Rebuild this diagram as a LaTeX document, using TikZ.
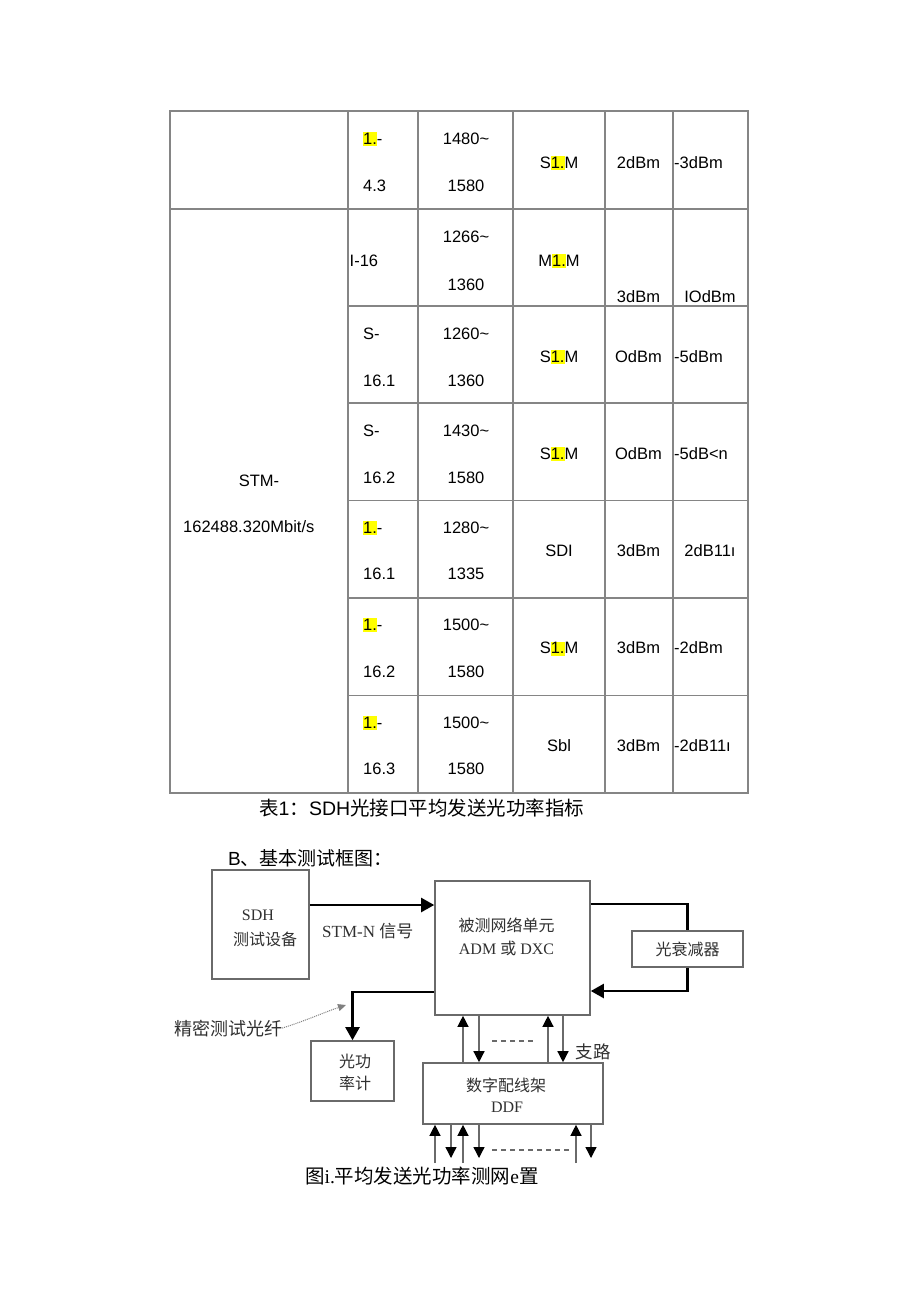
\documentclass[tikz,border=0pt]{standalone}
\usepackage{fontspec}
\setmainfont{Liberation Sans}
\newfontfamily\cjk{Noto Sans CJK SC}
\newfontfamily\tms{Liberation Serif}
\usetikzlibrary{arrows.meta}
\definecolor{gridc}{HTML}{858585}
\definecolor{boxc}{HTML}{6A6A6A}
\definecolor{hly}{HTML}{FFFF00}
\definecolor{dtext}{HTML}{303030}
\newcommand{\hlone}{{\setlength{\fboxsep}{0pt}\colorbox{hly}{\rule[-2pt]{0pt}{14pt}1.}}}
\begin{document}
\begin{tikzpicture}[x=1pt,y=-1pt,
  tt/.style={font=\fontsize{16.5}{18}\selectfont, inner sep=0pt, anchor=base},
  ttl/.style={tt, anchor=base west},
  gridline/.style={draw=gridc, line width=1.2pt},
  box/.style={draw=boxc, line width=1.6pt, inner sep=0pt},
  thk/.style={line width=2.2pt, draw=black},
  thn/.style={line width=1.3pt, draw=boxc},
  bigtip/.style={-{Triangle[length=13pt,width=14pt]}},
  smtip/.style={-{Triangle[length=11pt,width=11pt,color=black]}},
  cjkt/.style={font=\cjk\fontsize{16}{18}\selectfont, inner sep=0pt, anchor=base, text=dtext},
  fibre/.style={densely dotted, line width=1pt, draw=gray, -{Triangle[length=8pt,width=7pt,color=gray]}},
  capt/.style={font=\fontsize{19.5}{22}\selectfont, inner sep=0pt, anchor=base west}
]
\useasboundingbox[fill=white] (0,0) rectangle (920,1301);

% ---------------- table grid ----------------
\draw[gridline] (170,111) rectangle (748,793);
\draw[gridline] (170,209) -- (748,209);
\foreach \yy in {306,403,500.5,598,695.5} {\draw[gridline] (348,\yy) -- (748,\yy);}
\foreach \xx in {348,418,513,605,673} {\draw[gridline] (\xx,111) -- (\xx,793);}

% ---------------- table text ----------------
% row 1
\node[ttl] (r1a) at (363,144) {\hlone-};
\node[ttl] (r1b) at (363,191) {4.3};
\node[tt] (r1c) at (466,144) {1480\textasciitilde};
\node[tt] (r1d) at (466,191) {1580};
\node[tt] (r1e) at (559,168) {S\hlone M};
\node[tt] (r1f) at (638.5,168) {2dBm};
\node[ttl] (r1g) at (674,168) {-3dBm};
% row 2
\node[ttl] (r2a) at (349.5,266) {I-16};
\node[tt] (r2c) at (466,242) {1266\textasciitilde};
\node[tt] (r2d) at (466,290) {1360};
\node[tt] (r2e) at (559,266) {M\hlone M};
\node[tt] (r2f) at (638.5,302.5) {3dBm};
\node[tt] (r2g) at (710,302.5) {IOdBm};
% row 3
\node[ttl] (r3a) at (363,339) {S-};
\node[ttl] (r3b) at (363,386) {16.1};
\node[tt] (r3c) at (466,339) {1260\textasciitilde};
\node[tt] (r3d) at (466,386) {1360};
\node[tt] (r3e) at (559,362) {S\hlone M};
\node[tt] (r3f) at (638.5,362) {OdBm};
\node[ttl] (r3g) at (674,362) {-5dBm};
% row 4
\node[ttl] (r4a) at (363,436) {S-};
\node[ttl] (r4b) at (363,483) {16.2};
\node[tt] (r4c) at (466,436) {1430\textasciitilde};
\node[tt] (r4d) at (466,483) {1580};
\node[tt] (r4e) at (559,459) {S\hlone M};
\node[tt] (r4f) at (638.5,459) {OdBm};
\node[ttl] (r4g) at (674,459) {-5dB<n};
% row 5
\node[ttl] (r5a) at (363,533) {\hlone-};
\node[ttl] (r5b) at (363,579.5) {16.1};
\node[tt] (r5c) at (466,533) {1280\textasciitilde};
\node[tt] (r5d) at (466,579.5) {1335};
\node[tt] (r5e) at (559,556.5) {SDI};
\node[tt] (r5f) at (638.5,556.5) {3dBm};
\node[tt] (r5g) at (710,556.5) {2dB11ı};
% row 6
\node[ttl] (r6a) at (363,630) {\hlone-};
\node[ttl] (r6b) at (363,677.5) {16.2};
\node[tt] (r6c) at (466,630) {1500\textasciitilde};
\node[tt] (r6d) at (466,677.5) {1580};
\node[tt] (r6e) at (559,653.5) {S\hlone M};
\node[tt] (r6f) at (638.5,653.5) {3dBm};
\node[ttl] (r6g) at (674,653.5) {-2dBm};
% row 7
\node[ttl] (r7a) at (363,728) {\hlone-};
\node[ttl] (r7b) at (363,774.5) {16.3};
\node[tt] (r7c) at (466,728) {1500\textasciitilde};
\node[tt] (r7d) at (466,774.5) {1580};
\node[tt] (r7e) at (559,751) {Sbl};
\node[tt] (r7f) at (638.5,751) {3dBm};
\node[ttl] (r7g) at (674,751) {-2dB11ı};
% merged first column
\node[tt] (stm1) at (259,486) {STM-};
\node[ttl] (stm2) at (183,532) {162488.320Mbit/s};

% ---------------- captions ----------------
\node[capt] (cap1) at (259,815.5) {\cjk 表\rmfamily 1\cjk ：\rmfamily SDH\cjk 光接口平均发送光功率指标};
\node[capt, font=\fontsize{19}{22}\selectfont] (secb) at (228,865) {B\cjk 、基本测试框图：};
\node[capt] (cap2) at (305,1183.5) {\cjk 图\tms i.\cjk 平均发送光功率测网\tms e\cjk 置};

% ---------------- diagram boxes ----------------
\node[box, minimum width=97pt, minimum height=109pt] (sdh) at (260.5,924.5) {};
\node[box, minimum width=155pt, minimum height=134pt] (ne) at (512.5,948) {};
\node[box, minimum width=111pt, minimum height=36pt, font=\cjk\fontsize{16}{18}\selectfont, text=dtext] (att) at (687.5,949) {光衰减器};
\node[box, minimum width=83pt, minimum height=60pt] (pm) at (352.5,1071) {};
\node[box, minimum width=180pt, minimum height=61pt] (ddf) at (513,1093.5) {};

% box texts
\node[cjkt] (sdhl1) at (258,920.5) {\tms SDH};
\node[cjkt] (sdhl2) at (265,945) {测试设备};
\node[cjkt] (nel1) at (506.5,931) {被测网络单元};
\node[cjkt] (nel2) at (506.5,954) {\tms ADM \cjk 或\tms{} DXC};
\node[cjkt] (pml1) at (355,1067) {光功};
\node[cjkt] (pml2) at (355,1089) {率计};
\node[cjkt] (ddfl1) at (506,1091) {数字配线架};
\node[cjkt] (ddfl2) at (507,1112.5) {\tms DDF};

% labels
\node[cjkt, anchor=base west, font=\fontsize{17}{19}\selectfont] (stmn) at (322,937) {\tms STM-N \cjk 信号};
\node[cjkt, font=\cjk\fontsize{18}{20}\selectfont] (fib) at (228,1035) {精密测试光纤};
\node[cjkt, font=\cjk\fontsize{17.5}{19}\selectfont] (zl) at (593,1058.5) {支路};

% ---------------- helper coordinates ----------------
\coordinate (y905) at (0,905);
\coordinate (y904) at (0,904);
\coordinate (y991) at (0,991);
\coordinate (y992) at (0,992);
\coordinate (fibend) at (346,1005);
\coordinate (botup) at (0,1163);
\coordinate (botdn) at (0,1158);
\coordinate (xa) at (435,0);
\coordinate (xb) at (451,0);
\coordinate (xc) at (463,0);
\coordinate (xd) at (479,0);
\coordinate (xe) at (548,0);
\coordinate (xf) at (563,0);
\coordinate (xg) at (576,0);
\coordinate (xh) at (591,0);
\coordinate (d1s) at (492,1041);
\coordinate (d1e) at (533,1041);
\coordinate (d2s) at (492,1150);
\coordinate (d2e) at (570,1150);

% ---------------- connectors ----------------
\draw[thk, bigtip] (sdh.east |- y905) -- (ne.west |- y905);
\draw[thk] (ne.east |- y904) -| (att.north);
\draw[thk, bigtip] (att.south) |- (ne.east |- y991);
\draw[thk, bigtip] (ne.west |- y992) -| (pm.north);
\draw[fibre] (fib.east) .. controls (305,1021) and (325,1012) .. (fibend);

% branches between NE and DDF
\draw[thn, smtip] (ddf.north -| xc) -- (ne.south -| xc);
\draw[thn, smtip] (ne.south -| xd) -- (ddf.north -| xd);
\draw[thn, smtip] (ddf.north -| xe) -- (ne.south -| xe);
\draw[thn, smtip] (ne.south -| xf) -- (ddf.north -| xf);
\draw[thn, dash pattern=on 5pt off 4pt] (d1s) -- (d1e);

% branches below DDF
\draw[thn, smtip] (botup -| xa) -- (ddf.south -| xa);
\draw[thn, smtip] (ddf.south -| xb) -- (botdn -| xb);
\draw[thn, smtip] (botup -| xc) -- (ddf.south -| xc);
\draw[thn, smtip] (ddf.south -| xd) -- (botdn -| xd);
\draw[thn, smtip] (botup -| xg) -- (ddf.south -| xg);
\draw[thn, smtip] (ddf.south -| xh) -- (botdn -| xh);
\draw[thn, dash pattern=on 5pt off 4pt] (d2s) -- (d2e);
\end{tikzpicture}
\end{document}
